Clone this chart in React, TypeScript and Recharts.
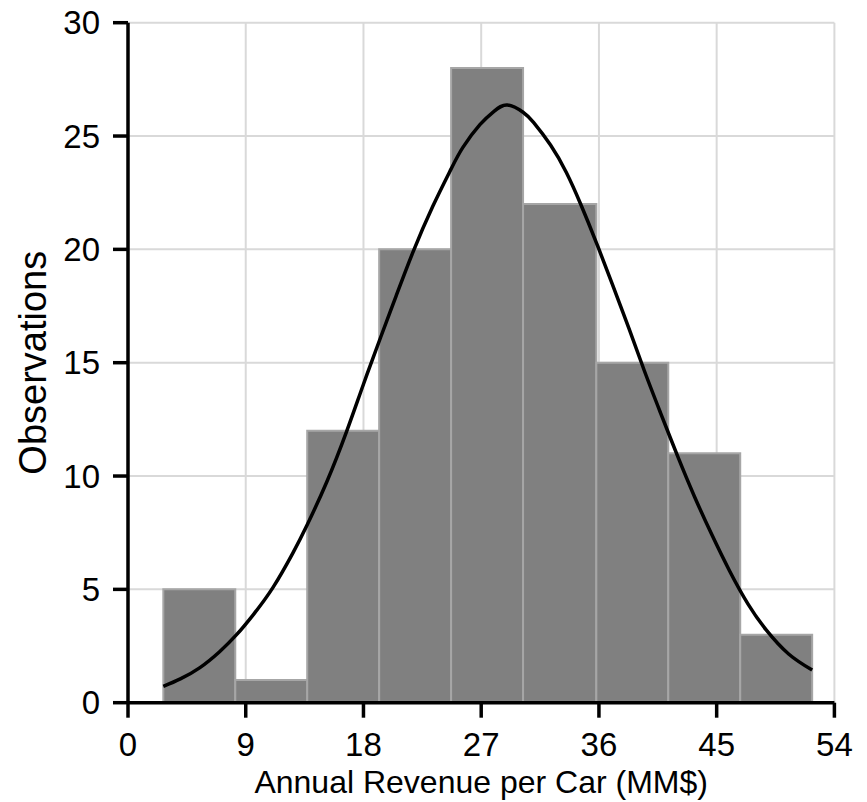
import React from 'react';
import { ComposedChart, XAxis, YAxis, CartesianGrid, Line, ReferenceArea } from 'recharts';

// Histogram bins (lower / upper edges, MM$) and observation counts
const binStarts = [2.7, 8.2, 13.7, 19.2, 24.7, 30.2, 35.8, 41.3, 46.8];
const binEnds = [8.2, 13.7, 19.2, 24.7, 30.2, 35.8, 41.3, 46.8, 52.3];
const counts = [5, 1, 12, 20, 28, 22, 15, 11, 3];

// Fitted curve
const curveX = [2.7, 4.0, 5.5, 7.0, 8.3, 9.6, 11.1, 12.6, 13.7, 15.2, 16.7, 18.0, 19.3, 20.5, 21.8, 23.3, 24.7, 25.6, 26.9, 28.0, 29.0, 30.2, 31.0, 32.3, 33.5, 34.6, 35.8, 37.0, 38.3, 39.5, 40.7, 42.0, 43.3, 44.6, 46.0, 47.4, 48.8, 50.5, 52.3];
const curveY = [0.72, 1.05, 1.55, 2.25, 3.0, 3.9, 5.1, 6.6, 7.85, 9.75, 11.95, 14.05, 16.1, 17.95, 19.9, 21.9, 23.55, 24.5, 25.5, 26.1, 26.37, 26.05, 25.6, 24.6, 23.4, 22.0, 20.3, 18.5, 16.5, 14.6, 12.8, 10.9, 9.1, 7.45, 5.8, 4.35, 3.2, 2.15, 1.44];

const xTicks = [0, 9, 18, 27, 36, 45, 54];
const yTicks = [0, 5, 10, 15, 20, 25, 30];

const curveData = curveX.map((x, i) => ({ x, y: curveY[i] }));

const FONT = '"Liberation Sans", Arial, Helvetica, sans-serif';

export default function App() {
  return (
    <div style={{ position: 'absolute', left: 0, top: 0, width: 867, height: 802, background: '#fff' }}>
      <ComposedChart
        width={867}
        height={802}
        data={curveData}
        margin={{ top: 22.7, right: 32.6, left: 0, bottom: 9.3 }}
        style={{ fontFamily: FONT }}
      >
        <CartesianGrid stroke="#d9d9d9" strokeWidth={2} />
        <XAxis
          dataKey="x"
          type="number"
          domain={[0, 54]}
          ticks={xTicks}
          interval={0}
          height={90}
          tickSize={15}
          tickMargin={15}
          axisLine={{ stroke: '#000', strokeWidth: 3.5 }}
          tickLine={{ stroke: '#000', strokeWidth: 3.5 }}
          tick={{ fill: '#000', fontSize: 33, fontFamily: FONT }}
          label={{ value: 'Annual Revenue per Car (MM$)', position: 'insideBottom', offset: 0, fill: '#000', fontSize: 32, fontFamily: FONT }}
        />
        <YAxis
          type="number"
          domain={[0, 30]}
          ticks={yTicks}
          interval={0}
          width={128}
          tickSize={15}
          tickMargin={13}
          axisLine={{ stroke: '#000', strokeWidth: 3.5 }}
          tickLine={{ stroke: '#000', strokeWidth: 3.5 }}
          tick={{ fill: '#000', fontSize: 33, fontFamily: FONT }}
          label={{ value: 'Observations', angle: -90, position: 'insideLeft', offset: 33, fill: '#000', fontSize: 38, fontFamily: FONT, style: { textAnchor: 'middle' } }}
        />
        {counts.map((c, i) => (
          <ReferenceArea
            key={i}
            x1={binStarts[i]}
            x2={binEnds[i]}
            y1={0}
            y2={c}
            fill="#808080"
            fillOpacity={1}
            stroke="#a6a6a6"
            strokeWidth={2}
            ifOverflow="visible"
          />
        ))}
        <Line
          dataKey="y"
          type="natural"
          stroke="#000"
          strokeWidth={3.5}
          dot={false}
          activeDot={false}
          isAnimationActive={false}
        />
      </ComposedChart>
    </div>
  );
}
